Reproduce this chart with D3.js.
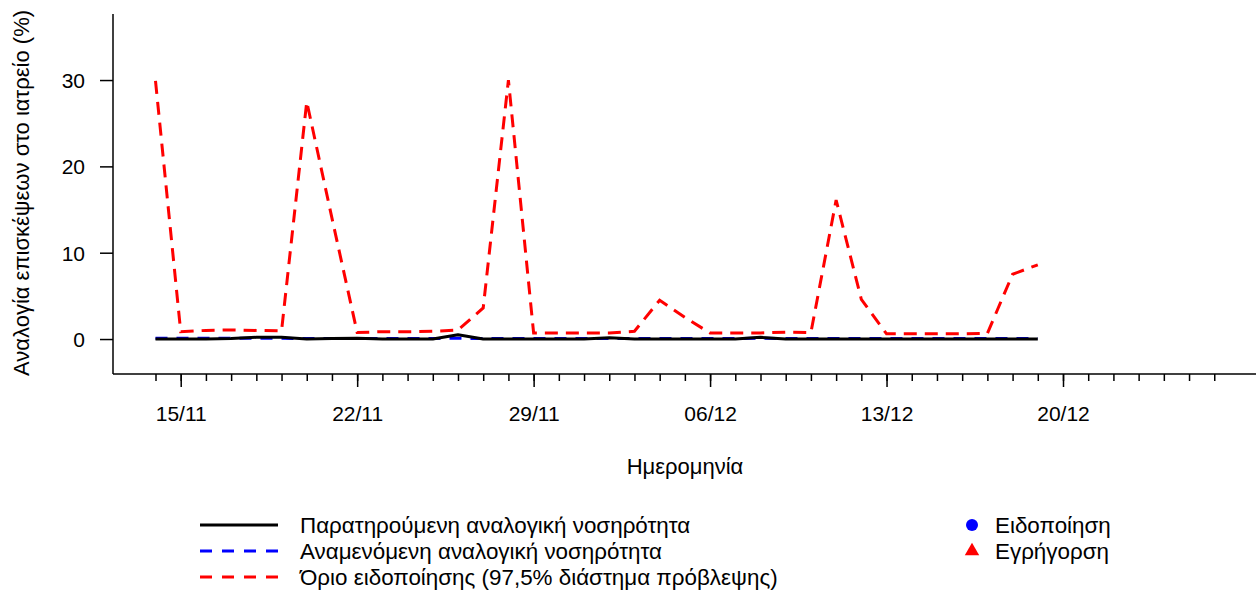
<!DOCTYPE html>
<html>
<head>
<meta charset="utf-8">
<script src="https://cdn.jsdelivr.net/npm/d3@7"></script>
<style>
html,body{margin:0;padding:0;background:#fff;}
svg{display:block;font-family:"Liberation Sans",Arial,Helvetica,sans-serif;}
</style>
</head>
<body>
<svg id="chart" width="1256" height="594"></svg>
<script>
// ---- data ----
const dates = ["2020-11-14","2020-11-15","2020-11-16","2020-11-17","2020-11-18","2020-11-19","2020-11-20",
"2020-11-21","2020-11-22","2020-11-23","2020-11-24","2020-11-25","2020-11-26","2020-11-27","2020-11-28",
"2020-11-29","2020-11-30","2020-12-01","2020-12-02","2020-12-03","2020-12-04","2020-12-05","2020-12-06",
"2020-12-07","2020-12-08","2020-12-09","2020-12-10","2020-12-11","2020-12-12","2020-12-13","2020-12-14",
"2020-12-15","2020-12-16","2020-12-17","2020-12-18","2020-12-19"];
const observed = [0,0,0,0.05,0.2,0.2,0,0.05,0.1,0,0,0,0.5,0,0,0,0,0,0.15,0,0,0,0,0,0.2,0,0,0,0,0,0,0,0,0,0,0];
const expected = [0.1,0.1,0.1,0.1,0.1,0.1,0.05,0.05,0.05,0.05,0.05,0.05,0.1,0.05,0.05,0.05,0.05,0.05,0.05,0.05,0.05,0.05,0.05,0.05,0.1,0.05,0.05,0.05,0.05,0.05,0.05,0.05,0.05,0.05,0.05,0.05];
const threshold = [29.9,0.85,1.0,1.05,1.0,0.95,27.5,14.0,0.75,0.85,0.85,0.9,1.05,3.6,30.0,0.7,0.7,0.7,0.7,0.9,4.5,2.5,0.7,0.7,0.7,0.8,0.75,16.1,4.6,0.6,0.6,0.6,0.6,0.65,7.5,8.6];
const yTicks = [0,10,20,30];
const majorTickDates = ["2020-11-15","2020-11-22","2020-11-29","2020-12-06","2020-12-13","2020-12-20"];
const minorTickStart = "2020-11-14", minorTickEnd = "2020-12-26";
const yLabel = "Αναλογία επισκέψεων στο ιατρείο (%)";
const xLabel = "Ημερομηνία";
const lineLegend = ["Παρατηρούμενη αναλογική νοσηρότητα","Αναμενόμενη αναλογική νοσηρότητα","Όριο ειδοποίησης (97,5% διάστημα πρόβλεψης)"];
const markLegend = ["Ειδοποίηση","Εγρήγορση"];

// ---- drawing ----
const FONT = "Liberation Sans, Arial, sans-serif";
const svg = d3.select("#chart");
const parse = d3.utcParse("%Y-%m-%d");
const fmt = d3.utcFormat("%d/%m");
const d0 = parse("2020-11-14"), d1 = parse("2020-12-20");
const x0 = 155.5, x1 = 1063;
const pxPerMs = (x1 - x0) / (d1 - d0);
const left = 113, right = 1256;
const x = d3.scaleUtc()
  .domain([new Date(+d0 - (x0 - left) / pxPerMs), new Date(+d1 + (right - x1) / pxPerMs)])
  .range([left, right]);
const y = d3.scaleLinear().domain([-4.05, 37.65]).range([374, 14]);

const rows = dates.map((d, i) => ({date: parse(d), obs: observed[i], exp: expected[i], thr: threshold[i]}));

// axes
const yAxis = d3.axisLeft(y).tickValues(yTicks).tickSize(13).tickPadding(15).tickFormat(d3.format("d"));
const gy = svg.append("g").attr("transform", `translate(${left},0)`).call(yAxis);
gy.select(".domain").attr("d", `M0,${y.range()[1]}V${y.range()[0]}`);
gy.selectAll("text").attr("font-size", 21).attr("fill", "#000").attr("font-family", FONT).attr("dy", "0.36em");

const minorDays = d3.utcDay.range(parse(minorTickStart), new Date(+parse(minorTickEnd) + 1));
const xMinor = d3.axisBottom(x).tickValues(minorDays).tickSize(7).tickFormat("");
const gxm = svg.append("g").attr("transform", `translate(0,374)`).call(xMinor);
gxm.select(".domain").attr("d", `M${left},0H${right}`);
const xMajor = d3.axisBottom(x).tickValues(majorTickDates.map(parse)).tickSize(13).tickPadding(18).tickFormat(fmt);
const gxM = svg.append("g").attr("transform", `translate(0,374)`).call(xMajor);
gxM.select(".domain").remove();
svg.selectAll("g .tick line, g .domain").attr("stroke", "#000").attr("stroke-width", 1.5);
gxM.selectAll("text").attr("font-size", 21).attr("fill", "#000").attr("font-family", FONT)
  .attr("y", 47).attr("dy", null);

// axis labels
svg.append("text").attr("x", 685).attr("y", 474).attr("text-anchor", "middle")
  .attr("font-size", 22).text(xLabel);
svg.append("text").attr("transform", "translate(29,193) rotate(-90)").attr("text-anchor", "middle")
  .attr("font-size", 22).text(yLabel);

// lines
const mk = key => d3.line().x(d => x(d.date)).y(d => y(d[key]));
svg.append("path").datum(rows).attr("d", mk("exp")).attr("fill", "none")
  .attr("stroke", "#0000ff").attr("stroke-width", 3).attr("stroke-dasharray", "12,9");
svg.append("path").datum(rows).attr("d", mk("thr")).attr("fill", "none")
  .attr("stroke", "#ff0000").attr("stroke-width", 3).attr("stroke-dasharray", "13,8");
svg.append("path").datum(rows).attr("d", mk("obs")).attr("fill", "none")
  .attr("stroke", "#000").attr("stroke-width", 3).attr("stroke-linejoin", "round");

// legend
const lstyles = [{c: "#000", dash: null}, {c: "#0000ff", dash: "12,10"}, {c: "#ff0000", dash: "12,10"}];
lineLegend.forEach((t, i) => {
  const yy = 525 + i * 26;
  svg.append("line").attr("x1", 200).attr("x2", 278).attr("y1", yy).attr("y2", yy)
    .attr("stroke", lstyles[i].c).attr("stroke-width", 3).attr("stroke-dasharray", lstyles[i].dash);
  svg.append("text").attr("x", 300).attr("y", yy + 8).attr("font-size", 22.4).text(t);
});
svg.append("circle").attr("cx", 972).attr("cy", 525).attr("r", 6).attr("fill", "#0000ff");
svg.append("path").attr("d", d3.symbol(d3.symbolTriangle, 90)()).attr("transform", "translate(972,551)").attr("fill", "#ff0000");
markLegend.forEach((t, i) => {
  svg.append("text").attr("x", 995).attr("y", 533 + i * 26).attr("font-size", 22.4).text(t);
});
</script>
</body>
</html>
